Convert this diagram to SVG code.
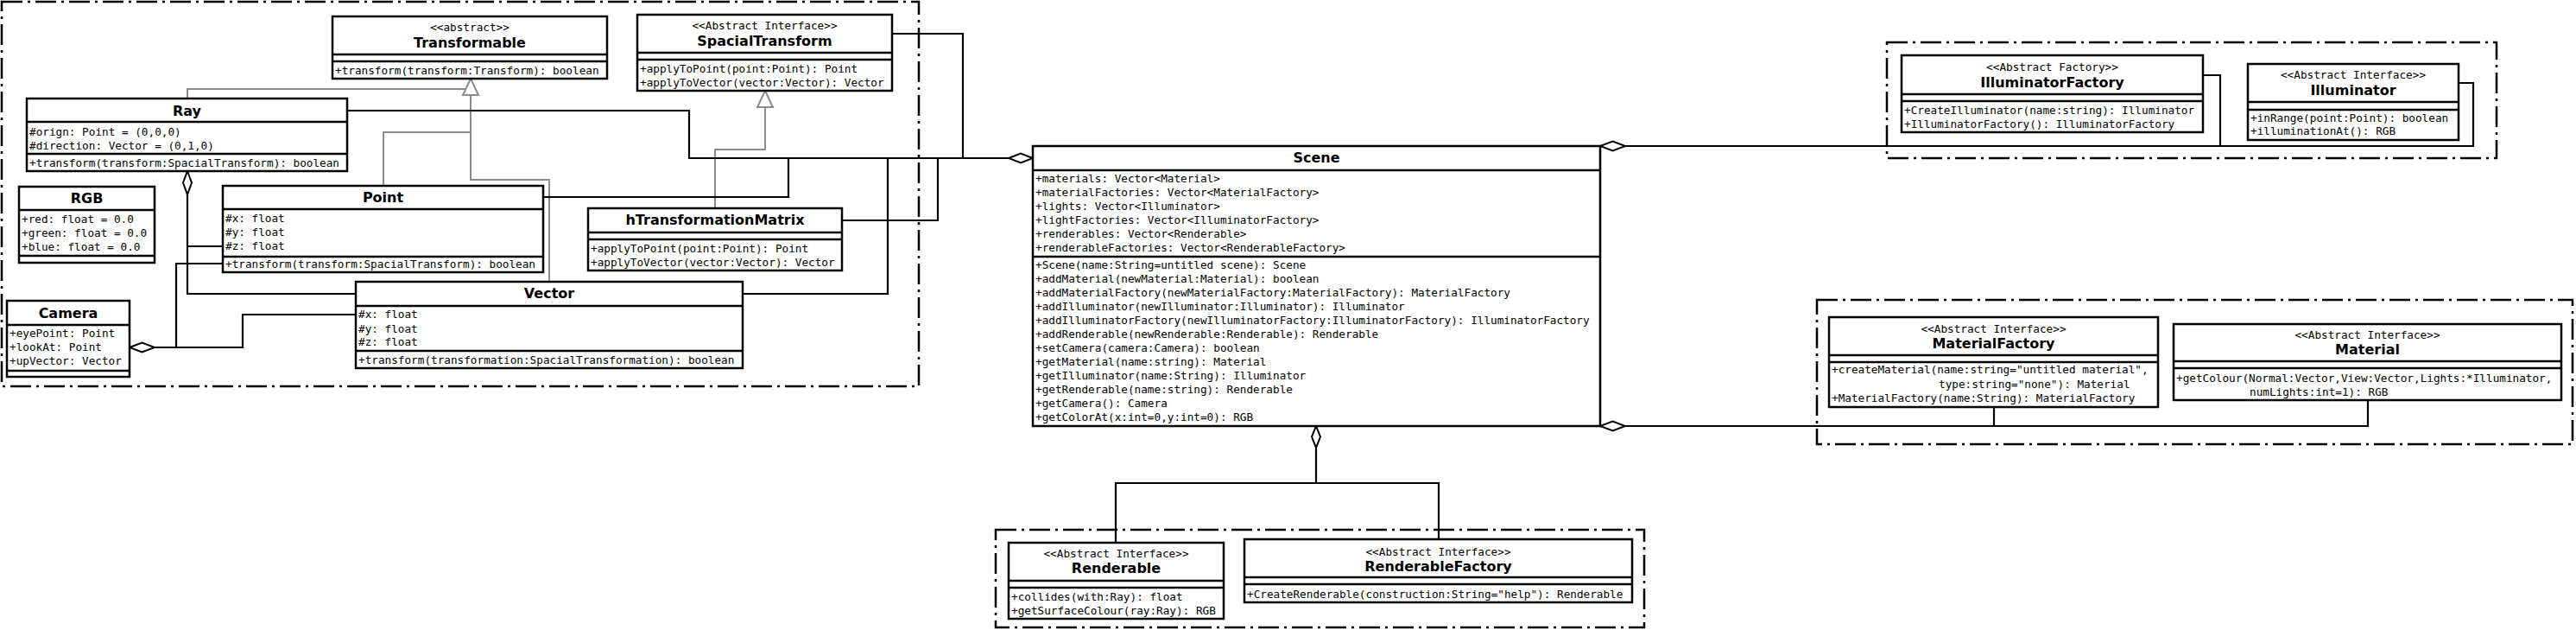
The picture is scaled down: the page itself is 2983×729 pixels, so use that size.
<svg xmlns="http://www.w3.org/2000/svg" width="2983" height="729" viewBox="0 0 2983 729">
<style>
.bg{fill:#fff}
.pkg{fill:none;stroke:#000;stroke-width:2.5;stroke-dasharray:24 6 3 6}
.box{fill:#fff;stroke:#000;stroke-width:2.5}
.sep{stroke:#000;stroke-width:2.5}
.m{font-family:"DejaVu Sans Mono","Liberation Mono",monospace;font-size:12.7px;fill:#000}
.st{font-family:"DejaVu Sans Mono","Liberation Mono",monospace;font-size:12.7px;fill:#000;text-anchor:middle}
.t{font-family:"DejaVu Sans","Liberation Sans",sans-serif;font-weight:bold;font-size:16px;fill:#000;text-anchor:middle}
.c{fill:none;stroke:#000;stroke-width:2.2}
.g{fill:none;stroke:#8c8c8c;stroke-width:2}
.tri{fill:#fff;stroke:#8c8c8c;stroke-width:2}
.dia{fill:#fff;stroke:#000;stroke-width:2}
</style>
<rect class="bg" x="0" y="0" width="2983" height="729"/>
<g id="packages">
<rect class="pkg" x="2" y="2" width="1062" height="445"/>
<rect class="pkg" x="2185" y="49" width="706" height="134"/>
<rect class="pkg" x="2104" y="347" width="875" height="167"/>
<rect class="pkg" x="1153" y="613" width="751" height="113"/>
</g>
<g id="connectors">
<polyline class="g" points="217,114 217,103 545,103"/>
<polyline class="g" points="444,215 444,153 545,153"/>
<polyline class="g" points="636,326 636,208 545,208 545,110"/>
<polyline class="g" points="828,241 828,173 886,173 886,124"/>
<polygon class="tri" points="545,91 554,110 536,110"/>
<polygon class="tri" points="886,105 895,124 877,124"/>
<polyline class="c" points="402,128 798,128 798,183 1168,183"/>
<polyline class="c" points="1033,39 1115,39 1115,183"/>
<polyline class="c" points="629,228 913,228 913,183"/>
<polyline class="c" points="860,340 1028,340 1028,183"/>
<polyline class="c" points="975,255 1086,255 1086,183"/>
<polyline class="c" points="217,225 217,340 412,340"/>
<polyline class="c" points="217,285 258,285"/>
<polyline class="c" points="179,402 281,402 281,364 412,364"/>
<polyline class="c" points="204,402 204,305 258,305"/>
<polyline class="c" points="1882,169 2864,169 2864,96 2847,96"/>
<polyline class="c" points="2551,87 2571,87 2571,169"/>
<polyline class="c" points="1882,493 2742,493 2742,463"/>
<polyline class="c" points="2309,471 2309,493"/>
<polyline class="c" points="1524,518 1524,559"/>
<polyline class="c" points="1292,628 1292,559 1666,559 1666,624"/>
<polygon class="dia" points="1168,183 1182,177.5 1196,183 1182,188.5"/>
<polygon class="dia" points="1853,169 1867.5,163.5 1882,169 1867.5,174.5"/>
<polygon class="dia" points="1853,493 1867.5,487.5 1882,493 1867.5,498.5"/>
<polygon class="dia" points="1524,493 1529,505.5 1524,518 1519,505.5"/>
<polygon class="dia" points="150,402 164.5,396.5 179,402 164.5,407.5"/>
<polygon class="dia" points="217,198 222,211.5 217,225 212,211.5"/>
</g>
<g id="Transformable">
<rect class="box" x="385" y="19" width="318" height="72"/>
<line class="sep" x1="385" y1="63" x2="703" y2="63"/>
<line class="sep" x1="385" y1="71" x2="703" y2="71"/>
<text class="st" x="544" y="36">&lt;&lt;abstract&gt;&gt;</text>
<text class="t" x="544" y="55">Transformable</text>
<text class="m" x="388" y="86">+transform(transform:Transform): boolean</text>
</g>
<g id="SpacialTransform">
<rect class="box" x="738" y="17" width="295" height="88"/>
<line class="sep" x1="738" y1="61" x2="1033" y2="61"/>
<line class="sep" x1="738" y1="69" x2="1033" y2="69"/>
<text class="st" x="885.5" y="34">&lt;&lt;Abstract Interface&gt;&gt;</text>
<text class="t" x="885.5" y="52.5">SpacialTransform</text>
<text class="m" x="741" y="84">+applyToPoint(point:Point): Point</text>
<text class="m" x="741" y="100">+applyToVector(vector:Vector): Vector</text>
</g>
<g id="Ray">
<rect class="box" x="31" y="114" width="371" height="84"/>
<line class="sep" x1="31" y1="141" x2="402" y2="141"/>
<line class="sep" x1="31" y1="178" x2="402" y2="178"/>
<text class="t" x="216.5" y="133.5">Ray</text>
<text class="m" x="34" y="157">#orign: Point = (0,0,0)</text>
<text class="m" x="34" y="172.5">#direction: Vector = (0,1,0)</text>
<text class="m" x="34" y="192.5">+transform(transform:SpacialTransform): boolean</text>
</g>
<g id="RGB">
<rect class="box" x="22" y="216" width="157" height="88"/>
<line class="sep" x1="22" y1="243" x2="179" y2="243"/>
<line class="sep" x1="22" y1="296" x2="179" y2="296"/>
<text class="t" x="100.5" y="235">RGB</text>
<text class="m" x="25" y="258">+red: float = 0.0</text>
<text class="m" x="25" y="274">+green: float = 0.0</text>
<text class="m" x="25" y="290">+blue: float = 0.0</text>
</g>
<g id="Point">
<rect class="box" x="258" y="215" width="371" height="100"/>
<line class="sep" x1="258" y1="242" x2="629" y2="242"/>
<line class="sep" x1="258" y1="297" x2="629" y2="297"/>
<text class="t" x="443.5" y="234">Point</text>
<text class="m" x="261" y="257">#x: float</text>
<text class="m" x="261" y="273">#y: float</text>
<text class="m" x="261" y="289">#z: float</text>
<text class="m" x="261" y="310">+transform(transform:SpacialTransform): boolean</text>
</g>
<g id="hTransformationMatrix">
<rect class="box" x="681" y="241" width="294" height="72"/>
<line class="sep" x1="681" y1="269" x2="975" y2="269"/>
<line class="sep" x1="681" y1="277" x2="975" y2="277"/>
<text class="t" x="828" y="260">hTransformationMatrix</text>
<text class="m" x="684" y="292">+applyToPoint(point:Point): Point</text>
<text class="m" x="684" y="307.5">+applyToVector(vector:Vector): Vector</text>
</g>
<g id="Camera">
<rect class="box" x="8" y="348" width="142" height="88"/>
<line class="sep" x1="8" y1="376" x2="150" y2="376"/>
<line class="sep" x1="8" y1="429" x2="150" y2="429"/>
<text class="t" x="79" y="367.5">Camera</text>
<text class="m" x="11" y="390">+eyePoint: Point</text>
<text class="m" x="11" y="406">+lookAt: Point</text>
<text class="m" x="11" y="422">+upVector: Vector</text>
</g>
<g id="Vector">
<rect class="box" x="412" y="326" width="448" height="100"/>
<line class="sep" x1="412" y1="354" x2="860" y2="354"/>
<line class="sep" x1="412" y1="406" x2="860" y2="406"/>
<text class="t" x="636" y="345">Vector</text>
<text class="m" x="415" y="368">#x: float</text>
<text class="m" x="415" y="384.5">#y: float</text>
<text class="m" x="415" y="400">#z: float</text>
<text class="m" x="415" y="421">+transform(transformation:SpacialTransformation): boolean</text>
</g>
<g id="Scene">
<rect class="box" x="1196" y="169" width="657" height="324"/>
<line class="sep" x1="1196" y1="197" x2="1853" y2="197"/>
<line class="sep" x1="1196" y1="297" x2="1853" y2="297"/>
<text class="t" x="1524.5" y="188">Scene</text>
<text class="m" x="1199" y="211">+materials: Vector&lt;Material&gt;</text>
<text class="m" x="1199" y="227">+materialFactories: Vector&lt;MaterialFactory&gt;</text>
<text class="m" x="1199" y="243">+lights: Vector&lt;Illuminator&gt;</text>
<text class="m" x="1199" y="259">+lightFactories: Vector&lt;IlluminatorFactory&gt;</text>
<text class="m" x="1199" y="275">+renderables: Vector&lt;Renderable&gt;</text>
<text class="m" x="1199" y="291">+renderableFactories: Vector&lt;RenderableFactory&gt;</text>
<text class="m" x="1199" y="311">+Scene(name:String=untitled scene): Scene</text>
<text class="m" x="1199" y="327">+addMaterial(newMaterial:Material): boolean</text>
<text class="m" x="1199" y="343">+addMaterialFactory(newMaterialFactory:MaterialFactory): MaterialFactory</text>
<text class="m" x="1199" y="359">+addIlluminator(newIlluminator:Illuminator): Illuminator</text>
<text class="m" x="1199" y="375">+addIlluminatorFactory(newIlluminatorFactory:IlluminatorFactory): IlluminatorFactory</text>
<text class="m" x="1199" y="391">+addRenderable(newRenderable:Renderable): Renderable</text>
<text class="m" x="1199" y="407">+setCamera(camera:Camera): boolean</text>
<text class="m" x="1199" y="423">+getMaterial(name:string): Material</text>
<text class="m" x="1199" y="439">+getIlluminator(name:String): Illuminator</text>
<text class="m" x="1199" y="455">+getRenderable(name:string): Renderable</text>
<text class="m" x="1199" y="471">+getCamera(): Camera</text>
<text class="m" x="1199" y="487">+getColorAt(x:int=0,y:int=0): RGB</text>
</g>
<g id="IlluminatorFactory">
<rect class="box" x="2202" y="64" width="349" height="89"/>
<line class="sep" x1="2202" y1="109" x2="2551" y2="109"/>
<line class="sep" x1="2202" y1="117" x2="2551" y2="117"/>
<text class="st" x="2376.5" y="81.5">&lt;&lt;Abstract Factory&gt;&gt;</text>
<text class="t" x="2376.5" y="101">IlluminatorFactory</text>
<text class="m" x="2205" y="132">+CreateIlluminator(name:string): Illuminator</text>
<text class="m" x="2205" y="147.5">+IlluminatorFactory(): IlluminatorFactory</text>
</g>
<g id="Illuminator">
<rect class="box" x="2603" y="74" width="244" height="88"/>
<line class="sep" x1="2603" y1="118" x2="2847" y2="118"/>
<line class="sep" x1="2603" y1="127" x2="2847" y2="127"/>
<text class="st" x="2725" y="90.5">&lt;&lt;Abstract Interface&gt;&gt;</text>
<text class="t" x="2725" y="110">Illuminator</text>
<text class="m" x="2606" y="140.5">+inRange(point:Point): boolean</text>
<text class="m" x="2606" y="156">+illuminationAt(): RGB</text>
</g>
<g id="MaterialFactory">
<rect class="box" x="2118" y="367" width="381" height="104"/>
<line class="sep" x1="2118" y1="411" x2="2499" y2="411"/>
<line class="sep" x1="2118" y1="419" x2="2499" y2="419"/>
<text class="st" x="2308.5" y="384.5">&lt;&lt;Abstract Interface&gt;&gt;</text>
<text class="t" x="2308.5" y="403">MaterialFactory</text>
<text class="m" x="2121" y="432">+createMaterial(name:string="untitled material",</text>
<text class="m" x="2245" y="449">type:string="none"): Material</text>
<text class="m" x="2121" y="465">+MaterialFactory(name:String): MaterialFactory</text>
</g>
<g id="Material">
<rect class="box" x="2517" y="375" width="449" height="88"/>
<line class="sep" x1="2517" y1="418" x2="2966" y2="418"/>
<line class="sep" x1="2517" y1="426" x2="2966" y2="426"/>
<text class="st" x="2741.5" y="391.5">&lt;&lt;Abstract Interface&gt;&gt;</text>
<text class="t" x="2741.5" y="410">Material</text>
<text class="m" x="2520" y="441.5">+getColour(Normal:Vector,View:Vector,Lights:*Illuminator,</text>
<text class="m" x="2605" y="457.5">numLights:int=1): RGB</text>
</g>
<g id="Renderable">
<rect class="box" x="1168" y="628" width="249" height="88"/>
<line class="sep" x1="1168" y1="672" x2="1417" y2="672"/>
<line class="sep" x1="1168" y1="680" x2="1417" y2="680"/>
<text class="st" x="1292.5" y="644.5">&lt;&lt;Abstract Interface&gt;&gt;</text>
<text class="t" x="1292.5" y="663">Renderable</text>
<text class="m" x="1171" y="694.5">+collides(with:Ray): float</text>
<text class="m" x="1171" y="710.5">+getSurfaceColour(ray:Ray): RGB</text>
</g>
<g id="RenderableFactory">
<rect class="box" x="1441" y="624" width="449" height="73"/>
<line class="sep" x1="1441" y1="668" x2="1890" y2="668"/>
<line class="sep" x1="1441" y1="676" x2="1890" y2="676"/>
<text class="st" x="1665.5" y="642.5">&lt;&lt;Abstract Interface&gt;&gt;</text>
<text class="t" x="1665.5" y="661">RenderableFactory</text>
<text class="m" x="1444" y="691.5">+CreateRenderable(construction:String="help"): Renderable</text>
</g>
</svg>
